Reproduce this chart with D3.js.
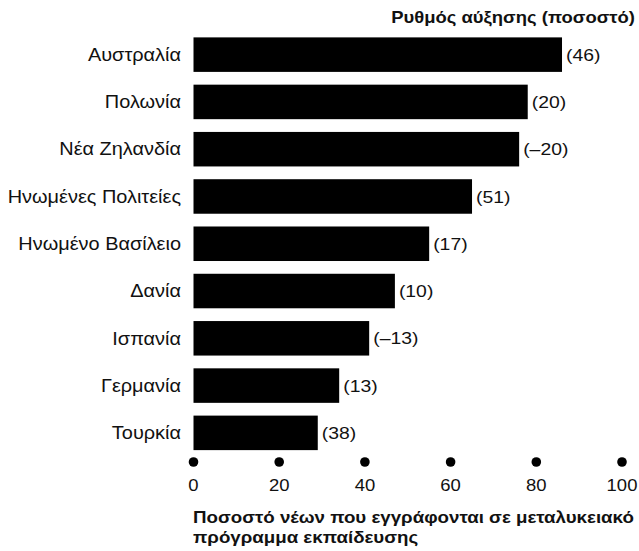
<!DOCTYPE html>
<html><head><meta charset="utf-8">
<script src="https://cdn.jsdelivr.net/npm/d3@7"></script>
<style>body{margin:0;background:#fff}svg{display:block}text{font-family:"Liberation Sans",Arial,sans-serif}</style>
</head><body>
<script>
const countries = ["Αυστραλία","Πολωνία","Νέα Ζηλανδία","Ηνωμένες Πολιτείες","Ηνωμένο Βασίλειο","Δανία","Ισπανία","Γερμανία","Τουρκία"];
const enrolment = [86, 78, 76, 65, 55, 47, 41, 34, 29];
const growth = ["(46)","(20)","(\u201320)","(51)","(17)","(10)","(\u201313)","(13)","(38)"];
const ticks = [0,20,40,60,80,100];

const W=639,H=551, SX=1.12;
const svg=d3.select("body").append("svg").attr("width",W).attr("height",H);
const x=d3.scaleLinear().domain([0,100]).range([193.5,622]);
const y=d3.scaleBand().domain(countries).range([31,456.5]).paddingInner(0.27).paddingOuter(0.135);
const tf=(px,py,s)=>`translate(${px},${py}) scale(${s||SX},1)`;

svg.selectAll("rect.bar").data(countries).join("rect").attr("class","bar")
  .attr("x",x(0)).attr("y",d=>y(d)).attr("height",y.bandwidth())
  .attr("width",(d,i)=>x(enrolment[i])-x(0)).attr("fill","#000");

svg.selectAll("text.cat").data(countries).join("text").attr("class","cat")
  .attr("transform",d=>tf(181,y(d)+y.bandwidth()/2)).attr("dy","0.35em")
  .attr("text-anchor","end").attr("font-size",17.8).attr("fill","#111").text(d=>d);

svg.selectAll("text.val").data(countries).join("text").attr("class","val")
  .attr("transform",(d,i)=>tf(x(enrolment[i])+4,y(d)+y.bandwidth()/2)).attr("dy","0.35em")
  .attr("font-size",17.3).attr("fill","#111").text((d,i)=>growth[i]);

const ax=svg.append("g");
ax.selectAll("circle").data(ticks).join("circle").attr("cx",d=>x(d)).attr("cy",462).attr("r",4.8).attr("fill","#000");
ax.selectAll("text").data(ticks).join("text").attr("transform",d=>tf(x(d),491))
  .attr("text-anchor","middle").attr("font-size",16.5).attr("fill","#111").text(d=>d);

svg.append("text").attr("transform",tf(635,23)).attr("text-anchor","end")
  .attr("font-size",16.5).attr("font-weight","bold").attr("fill","#111").text("Ρυθμός αύξησης (ποσοστό)");

const xt=svg.append("text").attr("transform",tf(193,523,1.135)).attr("font-size",16.5).attr("font-weight","bold").attr("fill","#111");
xt.append("tspan").attr("x",0).attr("y",0).text("Ποσοστό νέων που εγγράφονται σε μεταλυκειακό");
xt.append("tspan").attr("x",0).attr("y",20.5).text("πρόγραμμα εκπαίδευσης");
</script>
</body></html>
